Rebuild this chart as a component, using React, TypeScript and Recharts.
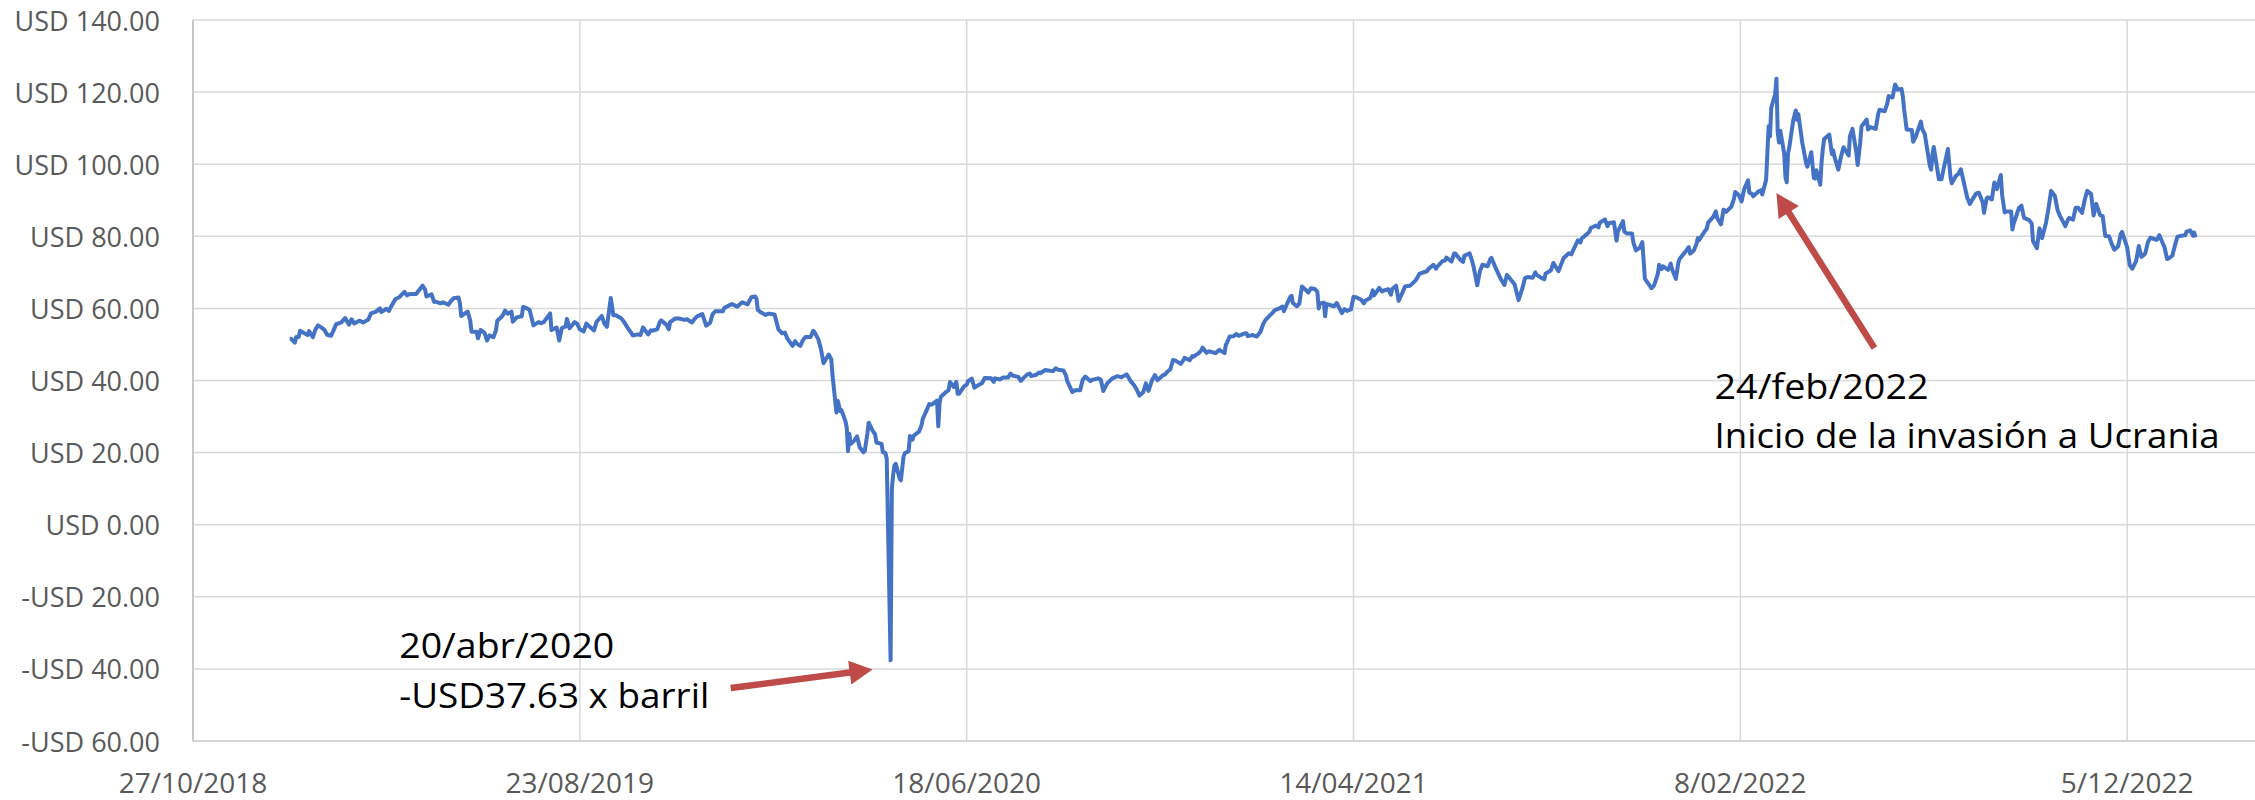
import React from 'react';
import { LineChart, Line, XAxis, YAxis, CartesianGrid } from 'recharts';

// WTI daily close (selected trading days), [MM-DD, USD]
const wti2019: [string, number][] = [
  ['01-10', 51.6], ['01-11', 51.6], ['01-14', 50.5], ['01-15', 52.1], ['01-17', 52.1], ['01-18', 53.8], ['01-22', 53.0], ['01-24', 52.6], ['01-25', 53.7], ['01-28', 52.0], ['01-30', 54.2],
  ['02-01', 55.3], ['02-04', 54.6], ['02-06', 54.0], ['02-08', 52.7], ['02-11', 52.4], ['02-13', 53.9], ['02-15', 55.6], ['02-19', 56.1], ['02-21', 57.0], ['02-22', 57.3], ['02-25', 55.5], ['02-27', 57.0],
  ['03-01', 55.8], ['03-05', 56.6], ['03-08', 56.1], ['03-12', 56.9], ['03-14', 58.6], ['03-18', 59.1], ['03-21', 60.0], ['03-22', 59.0], ['03-26', 59.9], ['03-28', 59.3], ['03-29', 60.1],
  ['04-02', 62.6], ['04-05', 63.1], ['04-09', 64.6], ['04-11', 63.6], ['04-12', 63.9], ['04-16', 64.0], ['04-18', 64.0], ['04-23', 66.3], ['04-25', 65.2], ['04-26', 63.3], ['04-30', 63.9],
  ['05-02', 61.8], ['05-03', 61.9], ['05-07', 61.4], ['05-09', 61.7], ['05-13', 61.0], ['05-15', 62.0], ['05-17', 62.8], ['05-21', 63.0], ['05-22', 61.4], ['05-23', 57.9], ['05-28', 59.1], ['05-30', 56.6], ['05-31', 53.5],
  ['06-04', 53.5], ['06-05', 51.7], ['06-07', 54.0], ['06-10', 53.3], ['06-12', 51.1], ['06-14', 52.5], ['06-17', 52.0], ['06-19', 54.0], ['06-20', 56.6], ['06-24', 57.9], ['06-26', 59.4], ['06-28', 58.5],
  ['07-01', 59.1], ['07-02', 56.3], ['07-05', 57.5], ['07-09', 57.8], ['07-10', 60.4], ['07-12', 60.2], ['07-15', 59.6], ['07-17', 56.8], ['07-18', 55.3], ['07-22', 56.2], ['07-24', 55.9], ['07-26', 56.2], ['07-30', 58.1], ['07-31', 58.6],
  ['08-01', 54.0], ['08-05', 54.7], ['08-07', 51.1], ['08-09', 54.5], ['08-12', 55.0], ['08-13', 57.1], ['08-15', 54.5], ['08-19', 56.2], ['08-21', 55.7], ['08-23', 54.2], ['08-26', 53.6], ['08-28', 55.8], ['08-30', 55.1],
  ['09-03', 53.9], ['09-05', 56.3], ['09-09', 57.9], ['09-11', 55.8], ['09-13', 54.9], ['09-16', 62.9], ['09-18', 58.1], ['09-20', 58.1], ['09-24', 57.3], ['09-26', 56.4], ['09-30', 54.1],
  ['10-02', 53.2], ['10-03', 52.5], ['10-07', 52.8], ['10-09', 52.6], ['10-11', 54.7], ['10-15', 52.8], ['10-17', 53.9], ['10-18', 53.8], ['10-22', 54.2], ['10-24', 56.2], ['10-25', 56.7], ['10-29', 55.5], ['10-31', 54.2],
  ['11-01', 56.2], ['11-05', 57.2], ['11-07', 57.2], ['11-08', 57.2], ['11-12', 56.8], ['11-14', 57.0], ['11-18', 56.1], ['11-20', 57.1], ['11-22', 57.8], ['11-26', 58.4], ['11-29', 55.2],
  ['12-02', 56.0], ['12-04', 58.4], ['12-06', 59.2], ['12-10', 59.2], ['12-12', 59.2], ['12-13', 60.1], ['12-17', 60.9], ['12-19', 61.2], ['12-23', 60.5], ['12-27', 61.7], ['12-31', 61.1],
];

const wti2020: [string, number][] = [
  ['01-03', 63.1], ['01-06', 63.3], ['01-07', 62.7], ['01-08', 59.6], ['01-10', 59.0], ['01-14', 58.2], ['01-16', 58.5], ['01-17', 58.5], ['01-21', 58.3], ['01-23', 55.6], ['01-24', 54.2], ['01-27', 53.1], ['01-29', 53.3], ['01-31', 51.6],
  ['02-03', 50.1], ['02-04', 49.6], ['02-06', 50.9], ['02-07', 50.3], ['02-10', 49.6], ['02-12', 51.2], ['02-14', 52.1], ['02-18', 52.1], ['02-20', 53.8], ['02-21', 53.4], ['02-24', 51.4], ['02-26', 48.7], ['02-28', 44.8],
  ['03-03', 47.2], ['03-05', 45.9], ['03-06', 41.3], ['03-09', 31.1], ['03-10', 34.4], ['03-12', 31.5], ['03-13', 31.7], ['03-16', 28.7], ['03-17', 26.9], ['03-18', 20.4], ['03-19', 25.2], ['03-20', 22.4], ['03-23', 23.4], ['03-25', 24.5], ['03-27', 21.5], ['03-30', 20.1], ['03-31', 20.5],
  ['04-02', 25.3], ['04-03', 28.3], ['04-06', 26.1], ['04-08', 25.1], ['04-09', 22.8], ['04-13', 22.4], ['04-14', 20.1], ['04-16', 19.9], ['04-17', 18.3], ['04-20', -37.63], ['04-21', 10.0], ['04-22', 13.8], ['04-23', 16.5], ['04-24', 16.9], ['04-27', 12.8], ['04-28', 12.3], ['04-30', 18.8],
  ['05-01', 19.8], ['05-04', 20.4], ['05-05', 24.6], ['05-07', 23.6], ['05-08', 24.7], ['05-12', 25.8], ['05-14', 27.6], ['05-15', 29.4], ['05-18', 31.8], ['05-20', 33.5], ['05-22', 33.3], ['05-26', 34.4], ['05-27', 27.3], ['05-28', 33.7], ['05-29', 35.5],
  ['06-02', 36.8], ['06-04', 37.3], ['06-05', 39.6], ['06-08', 38.2], ['06-10', 39.6], ['06-11', 36.3], ['06-12', 36.3], ['06-16', 38.4], ['06-18', 38.8], ['06-19', 39.8], ['06-22', 40.5], ['06-24', 38.0], ['06-26', 38.5], ['06-30', 39.3],
  ['07-02', 40.7], ['07-07', 40.6], ['07-09', 39.6], ['07-10', 40.6], ['07-14', 40.3], ['07-16', 40.8], ['07-20', 40.8], ['07-22', 41.9], ['07-24', 41.3], ['07-28', 41.0], ['07-30', 39.9], ['07-31', 40.3],
  ['08-04', 41.7], ['08-06', 41.9], ['08-07', 41.2], ['08-11', 41.6], ['08-13', 42.2], ['08-14', 42.0], ['08-18', 42.9], ['08-20', 42.8], ['08-24', 42.6], ['08-26', 43.4], ['08-28', 43.0],
  ['09-01', 42.8], ['09-03', 41.4], ['09-04', 39.8], ['09-08', 36.8], ['09-10', 37.3], ['09-11', 37.3], ['09-14', 37.3], ['09-16', 40.2], ['09-18', 41.1], ['09-22', 39.8], ['09-24', 40.3], ['09-25', 40.3], ['09-28', 40.6], ['09-30', 40.2],
  ['10-02', 37.1], ['10-05', 39.2], ['10-07', 39.9], ['10-09', 40.6], ['10-13', 41.2], ['10-15', 41.0], ['10-16', 40.9], ['10-20', 41.7], ['10-22', 40.6], ['10-23', 39.9], ['10-26', 38.6], ['10-28', 37.4], ['10-30', 35.8],
  ['11-02', 36.8], ['11-04', 39.2], ['11-06', 37.1], ['11-09', 40.3], ['11-11', 41.5], ['11-13', 40.1], ['11-17', 41.4], ['11-19', 41.7], ['11-20', 42.2], ['11-23', 43.1], ['11-25', 45.7], ['11-27', 45.5],
  ['12-01', 44.6], ['12-03', 45.6], ['12-04', 46.3], ['12-08', 45.6], ['12-10', 46.8], ['12-11', 46.6], ['12-15', 47.6], ['12-17', 48.4], ['12-18', 49.1], ['12-21', 47.7], ['12-23', 48.1], ['12-28', 47.6], ['12-31', 48.5],
];

const wti2021: [string, number][] = [
  ['01-04', 47.6], ['01-05', 49.9], ['01-06', 50.6], ['01-08', 52.2], ['01-11', 52.3], ['01-13', 52.9], ['01-15', 52.4], ['01-19', 53.0], ['01-21', 53.1], ['01-22', 52.3], ['01-26', 52.6], ['01-28', 52.3], ['01-29', 52.2],
  ['02-01', 53.6], ['02-03', 55.7], ['02-05', 56.9], ['02-08', 58.0], ['02-10', 58.7], ['02-12', 59.5], ['02-16', 60.1], ['02-18', 60.5], ['02-19', 59.2], ['02-22', 61.7], ['02-24', 63.2], ['02-25', 63.5], ['02-26', 61.5],
  ['03-01', 60.6], ['03-03', 61.3], ['03-04', 63.8], ['03-05', 66.1], ['03-08', 65.1], ['03-10', 64.4], ['03-12', 65.6], ['03-15', 65.4], ['03-17', 64.6], ['03-18', 60.0], ['03-19', 61.4], ['03-22', 61.6], ['03-23', 57.8], ['03-24', 61.2], ['03-26', 61.0], ['03-30', 60.6],
  ['04-01', 61.5], ['04-05', 58.7], ['04-07', 59.8], ['04-09', 59.3], ['04-12', 59.7], ['04-14', 63.2], ['04-16', 63.1], ['04-20', 62.4], ['04-22', 61.4], ['04-23', 62.1], ['04-27', 62.9], ['04-29', 65.0], ['04-30', 63.6],
  ['05-04', 65.7], ['05-06', 64.7], ['05-07', 64.9], ['05-11', 65.3], ['05-13', 63.8], ['05-14', 65.4], ['05-17', 66.3], ['05-19', 62.1], ['05-21', 63.6], ['05-24', 66.1], ['05-26', 66.2], ['05-28', 66.3],
  ['06-01', 67.7], ['06-03', 68.8], ['06-04', 69.6], ['06-08', 70.1], ['06-10', 70.3], ['06-11', 70.9], ['06-15', 72.1], ['06-17', 71.0], ['06-18', 71.6], ['06-22', 73.1], ['06-24', 73.3], ['06-25', 74.1], ['06-29', 73.0],
  ['07-01', 75.2], ['07-02', 75.2], ['07-06', 73.4], ['07-08', 72.9], ['07-09', 74.6], ['07-13', 75.3], ['07-15', 73.1], ['07-16', 71.8], ['07-19', 66.4], ['07-21', 70.3], ['07-23', 72.1], ['07-27', 71.7], ['07-29', 73.6], ['07-30', 74.0],
  ['08-03', 70.6], ['08-05', 69.1], ['08-06', 68.3], ['08-09', 66.5], ['08-11', 69.3], ['08-13', 68.4], ['08-17', 66.6], ['08-19', 63.7], ['08-20', 62.3], ['08-23', 65.6], ['08-25', 68.4], ['08-27', 68.7], ['08-31', 68.5],
  ['09-02', 70.0], ['09-03', 69.3], ['09-07', 68.4], ['09-09', 68.1], ['09-10', 69.7], ['09-14', 70.5], ['09-16', 72.6], ['09-17', 72.0], ['09-20', 70.3], ['09-22', 72.2], ['09-24', 74.0], ['09-28', 75.3], ['09-30', 75.0],
  ['10-01', 75.9], ['10-05', 78.9], ['10-07', 78.3], ['10-08', 79.4], ['10-12', 80.6], ['10-14', 81.3], ['10-15', 82.3], ['10-19', 83.0], ['10-21', 82.5], ['10-22', 83.8], ['10-26', 84.7], ['10-28', 82.8], ['10-29', 83.6],
  ['11-02', 83.9], ['11-04', 78.8], ['11-05', 81.3], ['11-09', 84.2], ['11-10', 81.3], ['11-12', 80.8], ['11-16', 80.8], ['11-17', 78.4], ['11-19', 76.1], ['11-22', 76.8], ['11-24', 78.4], ['11-26', 68.2], ['11-30', 66.2],
  ['12-01', 65.6], ['12-03', 66.3], ['12-06', 69.5], ['12-07', 72.1], ['12-09', 70.9], ['12-10', 71.7], ['12-14', 70.7], ['12-16', 72.4], ['12-17', 70.9], ['12-20', 68.2], ['12-22', 72.8], ['12-23', 73.8], ['12-28', 76.0], ['12-30', 77.0], ['12-31', 75.2],
];

const wti2022: [string, number][] = [
  ['01-03', 76.1], ['01-05', 77.9], ['01-06', 79.5], ['01-07', 78.9], ['01-11', 81.2], ['01-13', 82.1], ['01-14', 83.8], ['01-18', 85.4], ['01-20', 86.9], ['01-21', 85.1], ['01-24', 83.3], ['01-26', 87.4], ['01-28', 86.8],
  ['02-01', 88.2], ['02-03', 90.3], ['02-04', 92.3], ['02-07', 91.3], ['02-09', 89.7], ['02-11', 93.1], ['02-14', 95.5], ['02-15', 92.1], ['02-17', 91.8], ['02-18', 91.1], ['02-22', 92.4], ['02-24', 92.8], ['02-25', 91.6], ['02-28', 95.7],
  ['03-01', 103.4], ['03-02', 110.6], ['03-03', 107.7], ['03-04', 115.7], ['03-07', 119.4], ['03-08', 123.7], ['03-09', 108.7], ['03-10', 106.0], ['03-11', 109.3], ['03-14', 103.0], ['03-15', 96.4], ['03-16', 95.0], ['03-17', 103.0], ['03-18', 104.7], ['03-21', 112.1], ['03-23', 114.9], ['03-24', 112.3], ['03-25', 113.9], ['03-28', 106.0], ['03-29', 104.2], ['03-31', 100.3],
  ['04-01', 99.3], ['04-04', 103.3], ['04-06', 96.2], ['04-07', 96.0], ['04-08', 98.3], ['04-11', 94.3], ['04-12', 100.6], ['04-13', 104.3], ['04-14', 107.0], ['04-18', 108.2], ['04-20', 102.8], ['04-21', 103.8], ['04-22', 102.1], ['04-25', 98.5], ['04-27', 102.0], ['04-29', 104.7],
  ['05-03', 102.4], ['05-04', 107.8], ['05-06', 109.8], ['05-09', 103.1], ['05-10', 99.8], ['05-12', 106.1], ['05-13', 110.5], ['05-17', 112.4], ['05-18', 109.6], ['05-20', 110.3], ['05-24', 109.8], ['05-26', 114.1], ['05-27', 115.1], ['05-31', 114.7],
  ['06-02', 116.9], ['06-03', 118.9], ['06-06', 118.5], ['06-08', 122.1], ['06-09', 121.5], ['06-10', 120.7], ['06-13', 120.9], ['06-14', 118.9], ['06-15', 115.3], ['06-17', 109.6], ['06-21', 109.5], ['06-22', 106.2], ['06-24', 107.6], ['06-28', 111.8], ['06-29', 109.8],
  ['07-01', 108.4], ['07-05', 99.5], ['07-06', 98.5], ['07-07', 102.7], ['07-08', 104.8], ['07-12', 95.8], ['07-14', 95.8], ['07-15', 97.6], ['07-18', 102.6], ['07-19', 104.2], ['07-21', 96.4], ['07-22', 94.7], ['07-25', 96.7], ['07-27', 97.3], ['07-29', 98.6],
  ['08-01', 93.9], ['08-03', 90.7], ['08-05', 89.0], ['08-08', 90.8], ['08-10', 91.9], ['08-12', 92.1], ['08-15', 89.4], ['08-16', 86.5], ['08-18', 90.5], ['08-19', 90.8], ['08-22', 90.2], ['08-24', 94.9], ['08-26', 93.1], ['08-29', 97.0], ['08-30', 91.6],
  ['09-01', 86.6], ['09-02', 86.9], ['09-06', 86.9], ['09-07', 81.9], ['09-08', 83.5], ['09-12', 87.8], ['09-14', 88.5], ['09-16', 85.1], ['09-20', 84.5], ['09-22', 83.5], ['09-23', 78.7], ['09-26', 76.7], ['09-28', 82.2], ['09-30', 79.5],
  ['10-03', 83.6], ['10-05', 87.8], ['10-07', 92.6], ['10-10', 91.1], ['10-12', 87.3], ['10-14', 85.6], ['10-18', 82.8], ['10-20', 84.5], ['10-21', 85.1], ['10-24', 84.6], ['10-26', 87.9], ['10-28', 87.9], ['10-31', 86.5],
  ['11-02', 90.0], ['11-04', 92.6], ['11-07', 91.8], ['11-09', 85.8], ['11-11', 89.0], ['11-14', 85.9], ['11-16', 85.6], ['11-18', 80.1], ['11-21', 80.0], ['11-23', 77.9], ['11-25', 76.3], ['11-28', 77.2], ['11-30', 80.6],
  ['12-01', 81.2], ['12-05', 76.9], ['12-07', 72.0], ['12-09', 71.0], ['12-12', 73.2], ['12-14', 77.3], ['12-16', 74.3], ['12-19', 75.2], ['12-21', 78.3], ['12-23', 79.6], ['12-28', 79.0], ['12-30', 80.3],
];

const wti2023: [string, number][] = [
  ['01-03', 76.9], ['01-05', 73.7], ['01-06', 73.8], ['01-09', 74.6], ['01-11', 77.4], ['01-13', 79.9], ['01-17', 80.2], ['01-19', 80.3], ['01-20', 81.3], ['01-23', 81.6], ['01-25', 80.2], ['01-26', 81.0], ['01-27', 79.7],
];

const yearSeries: [number, [string, number][]][] = [
  [2019, wti2019], [2020, wti2020], [2021, wti2021], [2022, wti2022], [2023, wti2023],
];

// Axis (the last tick only closes the axis range; it lies beyond the visible frame)
const xTickDates = ['2018-10-27', '2019-08-23', '2020-06-18', '2021-04-14', '2022-02-08', '2022-12-05', '2023-10-01'];
const xTickLabels = ['27/10/2018', '23/08/2019', '18/06/2020', '14/04/2021', '8/02/2022', '5/12/2022', ''];
const yTicks = [-60, -40, -20, 0, 20, 40, 60, 80, 100, 120, 140];

const annotationLow = ['20/abr/2020', '-USD37.63 x barril'];
const annotationHigh = ['24/feb/2022', 'Inicio de la invasión a Ucrania'];

const dayOf = (s: string) => {
  const [y, m, d] = s.split('-').map(Number);
  return Math.round(Date.UTC(y, m - 1, d) / 86400000);
};

const data = yearSeries.flatMap(([yr, arr]) =>
  arr.map(([md, v]) => ({ t: dayOf(`${yr}-${md}`), price: v }))
);
const xTicks = xTickDates.map(dayOf);
const labelByTick: Record<number, string> = {};
xTicks.forEach((t, i) => (labelByTick[t] = xTickLabels[i]));

// layout
const CHART_W = 2530;
const CHART_H = 800;
const LEFT = 193;
const TOP = 20;
const RIGHT_M = 16;
const X_AXIS_H = 59;
const PLOT_W = CHART_W - LEFT - RIGHT_M;
const PLOT_H = CHART_H - TOP - X_AXIS_H;
const X_MIN = xTicks[0];
const X_MAX = xTicks[xTicks.length - 1];
const Y_MIN = -60;
const Y_MAX = 140;

const px = (date: string) => LEFT + ((dayOf(date) - X_MIN) / (X_MAX - X_MIN)) * PLOT_W;
const py = (v: number) => TOP + ((Y_MAX - v) / (Y_MAX - Y_MIN)) * PLOT_H;

const FONT = '"Open Sans", "Noto Sans", sans-serif';
const ARROW = '#BE4B48';

const fmtY = (v: number) => (v < 0 ? `-USD ${Math.abs(v).toFixed(2)}` : `USD ${v.toFixed(2)}`);

const YTick = (props: any) => {
  const { y, payload } = props;
  return (
    <text x={160} y={y + 10.5} textAnchor="end" fill="#595959" fontSize={27} fontFamily={FONT}>
      {fmtY(payload.value)}
    </text>
  );
};

const XTick = (props: any) => {
  const { x, payload } = props;
  const label = labelByTick[payload.value];
  if (!label) return <g />;
  return (
    <text x={x} y={TOP + PLOT_H + 51.5} textAnchor="middle" fill="#595959" fontSize={28} fontFamily={FONT}>
      {label}
    </text>
  );
};

const Arrow = ({ x1, y1, x2, y2 }: { x1: number; y1: number; x2: number; y2: number }) => {
  const dx = x2 - x1;
  const dy = y2 - y1;
  const len = Math.sqrt(dx * dx + dy * dy);
  const ux = dx / len;
  const uy = dy / len;
  const headLen = 23;
  const headHalf = 12;
  const bx = x2 - ux * headLen;
  const by = y2 - uy * headLen;
  const pts = [
    [x2, y2],
    [bx - uy * headHalf, by + ux * headHalf],
    [bx + uy * headHalf, by - ux * headHalf],
  ]
    .map((p) => p.join(','))
    .join(' ');
  return (
    <g>
      <line x1={x1} y1={y1} x2={bx + ux * 2} y2={by + uy * 2} stroke={ARROW} strokeWidth={6.5} />
      <polygon points={pts} fill={ARROW} />
    </g>
  );
};

export default function App() {
  return (
    <div style={{ position: 'absolute', left: 0, top: 0, width: 2255, height: 800, overflow: 'hidden', background: '#fff' }}>
      <LineChart
        width={CHART_W}
        height={CHART_H}
        data={data}
        margin={{ top: TOP, right: RIGHT_M, bottom: 0, left: 0 }}
      >
        <CartesianGrid stroke="#D9D9D9" strokeWidth={1.5} />
        <XAxis
          dataKey="t"
          type="number"
          domain={[X_MIN, X_MAX]}
          ticks={xTicks}
          tick={<XTick />}
          tickLine={false}
          axisLine={{ stroke: '#D0D0D0', strokeWidth: 1.5 }}
          height={X_AXIS_H}
          interval={0}
        />
        <YAxis
          type="number"
          domain={[Y_MIN, Y_MAX]}
          ticks={yTicks}
          tick={<YTick />}
          tickLine={false}
          axisLine={{ stroke: '#C8C8C8', strokeWidth: 2 }}
          width={LEFT}
          interval={0}
        />
        <Line
          type="linear"
          dataKey="price"
          stroke="#4472C4"
          strokeWidth={4}
          dot={false}
          isAnimationActive={false}
          strokeLinejoin="round"
        />
      </LineChart>
      <svg
        width={2255}
        height={CHART_H}
        style={{ position: 'absolute', left: 0, top: 0, pointerEvents: 'none' }}
      >
        <Arrow x1={px('2019-12-18')} y1={py(-45.3)} x2={px('2020-04-06')} y2={py(-40.2)} />
        <Arrow x1={px('2022-05-23')} y1={py(49.0)} x2={px('2022-03-08')} y2={py(92.0)} />
        <text x={px('2019-04-05')} y={py(-37.0)} fontSize={35} fontFamily={FONT} fill="#000" textLength={215} lengthAdjust="spacingAndGlyphs">
          {annotationLow[0]}
        </text>
        <text x={px('2019-04-05')} y={py(-50.9)} fontSize={35} fontFamily={FONT} fill="#000" textLength={310} lengthAdjust="spacingAndGlyphs">
          {annotationLow[1]}
        </text>
        <text x={px('2022-01-19')} y={py(34.9)} fontSize={35} fontFamily={FONT} fill="#000" textLength={214} lengthAdjust="spacingAndGlyphs">
          {annotationHigh[0]}
        </text>
        <text x={px('2022-01-19')} y={py(21.3)} fontSize={35} fontFamily={FONT} fill="#000" textLength={505} lengthAdjust="spacingAndGlyphs">
          {annotationHigh[1]}
        </text>
      </svg>
    </div>
  );
}
